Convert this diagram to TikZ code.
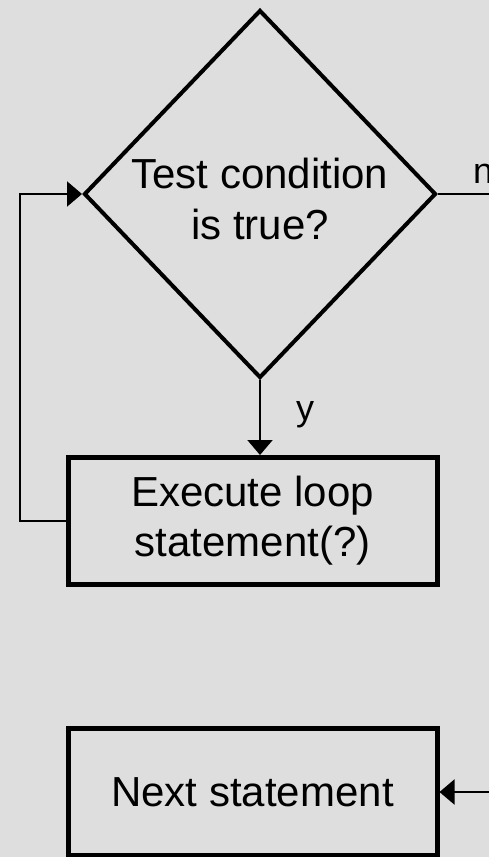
\documentclass[tikz,border=0pt]{standalone}
\usepackage{fontspec}
\setmainfont{Liberation Sans}
\usetikzlibrary{shapes.geometric,arrows.meta}

\definecolor{canvas}{RGB}{222,222,222}

\tikzset{
  decision/.style={diamond, draw, line width=4pt, inner sep=0pt,
    minimum width=352pt, minimum height=368pt},
  stepbox/.style={rectangle, draw, line width=5pt, inner sep=0pt,
    minimum width=369pt, minimum height=127pt, align=center,
    font=\fontsize{42}{50}\selectfont},
  bigtext/.style={align=center, inner sep=0pt, font=\fontsize{42}{51}\selectfont},
  flowlabel/.style={inner sep=0pt, font=\fontsize{36}{40}\selectfont},
  flow/.style={line width=2pt, line join=miter,
    -{Triangle[length=15pt, width=25pt]}},
}

\begin{document}
\begin{tikzpicture}[x=1pt, y=-1pt]
  % canvas
  \fill[canvas] (0,0) rectangle (489,857);
  \useasboundingbox (0,0) rectangle (489,857);

  % decision and its question
  \node[decision] (dec) at (260,194) {};
  \node[bigtext] (dectext) at (260,198.5) {Test condition\\is true?};

  % loop body and the statement after the loop
  \node[stepbox] (body) at (252.5,521) {Execute loop\\statement(?)};
  \node[stepbox] (next) at (252.5,792) {Next statement};

  % routing points
  \coordinate (backx) at (20,0);
  \coordinate (exitx) at (505,0);

  % yes branch
  \draw[flow] (dec.south) -- (dec.south |- body.north);
  \node[flowlabel, anchor=base west] (ylab) at (296,420) {y};

  % back to the test
  \draw[flow] (body.west) -- (body.west -| backx) |- (dec.west);

  % no branch
  \draw[flow] (dec.east) -- (dec.east -| exitx) |- (next.east);
  \node[flowlabel, anchor=base west] (nlab) at (473,183) {n};
\end{tikzpicture}
\end{document}
